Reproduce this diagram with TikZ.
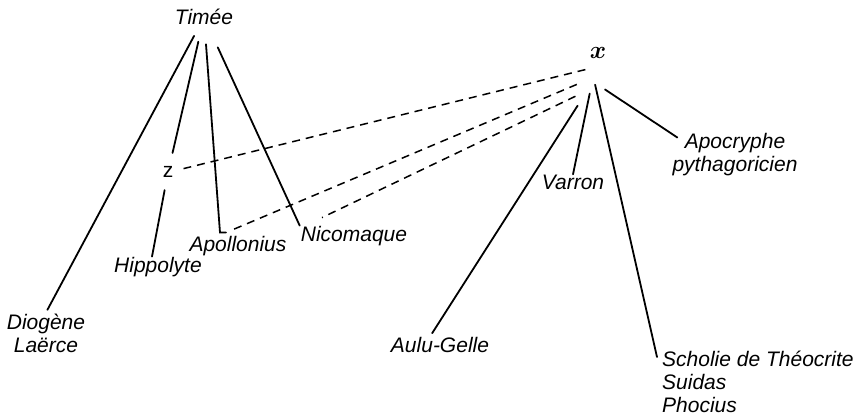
\documentclass[tikz,border=0pt]{standalone}
\usepackage{fontspec}
\setmainfont{Liberation Sans}
\usetikzlibrary{positioning,calc}
\tikzset{
  witness/.style={font=\fontsize{21}{23}\selectfont\itshape, inner sep=1pt},
  lineage/.style={line width=1.8pt, line cap=round, draw=black},
  borrow/.style={line width=1.5pt, dash pattern=on 8pt off 6pt, draw=black}
}
\begin{document}
\begin{tikzpicture}[x=1pt,y=-1pt]
  \useasboundingbox (0,0) rectangle (860,419);
  \node[witness,anchor=base] (timee) at (204,25) {Timée};
  \node[font=\fontsize{35}{35}\selectfont\boldmath,inner sep=1pt,anchor=base] (xnode) at (598,59) {$x$};
  \node[witness,anchor=base,font=\fontsize{21}{23}\selectfont\upshape] (z) at (168,178) {z};
  \node[witness,align=center] (diogene) at (46,333) {Diogène\\Laërce};
  \node[witness,anchor=base] (hippolyte) at (158,273) {Hippolyte};
  \node[witness,anchor=base] (apollonius) at (238,252) {Apollonius};
  \node[witness,anchor=base] (nicomaque) at (354,242) {Nicomaque};
  \node[witness,anchor=base] (aulu) at (440,353) {Aulu-Gelle};
  \node[witness,anchor=base] (varron) at (573,190) {Varron};
  \node[witness,align=center] (apocryphe) at (735,155) {Apocryphe\\pythagoricien};
  \node[witness,align=left,anchor=north west] (scholie) at (661,350)
    {Scholie de Théocrite\\Suidas\\Phocius};

  \draw[lineage,shorten <=21pt,shorten >=3pt] (timee.center) -- (diogene.north);
  \draw[lineage,shorten <=25pt,shorten >=20pt] (timee.center) -- (z.center);
  \draw[lineage,shorten <=18pt] (z.center) -- ([xshift=-6pt]hippolyte.north);
  \draw[lineage,shorten <=27pt] (timee.center)
    -- ([xshift=-18pt,yshift=3pt]apollonius.north) -- ([xshift=-12pt,yshift=3pt]apollonius.north);
  \draw[lineage,shorten <=33pt] (timee.center) -- (nicomaque.north west);

  \draw[lineage,shorten <=62pt,shorten >=4pt] ([xshift=13pt]xnode.center) -- ([xshift=-10pt]aulu.north);
  \draw[lineage,shorten <=41pt] (xnode.center) -- (varron.north);
  \draw[lineage,shorten <=32pt] ([xshift=-10pt]xnode.center) -- ([xshift=-4pt,yshift=-7pt]scholie.north west);
  \draw[lineage] ([xshift=7pt,yshift=-36pt]xnode.center) -- ([xshift=6pt,yshift=-5pt]apocryphe.north west);

  \draw[borrow,shorten <=13pt,shorten >=16pt] ([yshift=-13pt]xnode.center) -- (z.center);
  \draw[borrow,shorten <=23pt] ([yshift=-22pt]xnode.center) -- ([xshift=-5pt,yshift=6pt]apollonius.north);
  \draw[borrow,shorten <=25pt] ([yshift=-32pt]xnode.center) -- ([xshift=-32pt,yshift=8pt]nicomaque.north);
\end{tikzpicture}
\end{document}
